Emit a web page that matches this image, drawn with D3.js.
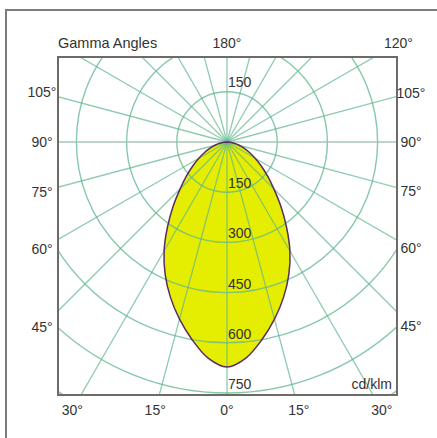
<!DOCTYPE html>
<html>
<head>
<meta charset="utf-8">
<script src="https://cdn.jsdelivr.net/npm/d3@7"></script>
<style>
  html, body { margin: 0; padding: 0; background: #fff; }
  svg text { font-family: "Liberation Sans", Arial, sans-serif; fill: #333; }
</style>
</head>
<body>
<div id="chart"></div>
<script>
/* gamma angles (deg, one half of the symmetric curve) and intensity (cd/klm) */
var gammaAngles = [0, 5, 10, 15, 20, 25, 30, 35, 40, 45, 50, 55, 60, 65, 70, 75, 80, 85, 90];
var intensity   = [672, 648, 600, 548, 494, 437, 376, 310, 250, 198, 158, 125, 97, 74, 54, 37, 22, 10, 0];

/* radial grid circles and their labels */
var gridValues = [150, 300, 450, 600, 750, 900];
var radialLabels = [150, 300, 450, 600, 750];

/* radial grid lines every 15 deg, angle labels (signed: negative = left side) */
var gridAngles = d3.range(0, 360, 15);
var angleLabels = [-105, -90, -75, -60, -45, -30, -15, 0, 15, 30, 45, 60, 75, 90, 105, 120, 180];

var W = 437, H = 438;
var frame = {x0: 58, y0: 57, x1: 397, y1: 395};
var labelBox = {x0: 42, y0: 43, x1: 411, y1: 410};
var cx = 227, cy = 142;

var r = d3.scaleLinear().domain([0, 750]).range([0, 251]);
var rad = function (deg) { return deg * Math.PI / 180; };

var svg = d3.select("#chart").append("svg")
  .attr("width", W).attr("height", H);

/* outer box (runs off the right and bottom edges) */
svg.append("rect")
  .attr("x", 6).attr("y", 10).attr("width", 460).attr("height", 460)
  .attr("fill", "#fff").attr("stroke", "#7c7c7c").attr("stroke-width", 2);

/* angle labels placed where each ray meets the label box */
function rayPoint(g) {
  var dx = Math.sin(rad(g)), dy = Math.cos(rad(g));
  var ts = [];
  if (dx > 1e-6) ts.push((labelBox.x1 - cx) / dx);
  if (dx < -1e-6) ts.push((labelBox.x0 - cx) / dx);
  if (dy > 1e-6) ts.push((labelBox.y1 - cy) / dy);
  if (dy < -1e-6) ts.push((labelBox.y0 - cy) / dy);
  var t = d3.min(ts);
  return [cx + t * dx, cy + t * dy];
}

svg.selectAll("text.ang")
  .data(angleLabels)
  .enter().append("text")
  .attr("class", "ang")
  .attr("x", function (d) { return rayPoint(d)[0]; })
  .attr("y", function (d) { return rayPoint(d)[1]; })
  .attr("text-anchor", "middle")
  .attr("dominant-baseline", "central")
  .style("font-size", "14px")
  .text(function (d) { return Math.abs(d) + "\u00b0"; });

svg.append("text")
  .attr("x", 58).attr("y", 48)
  .style("font-size", "14.5px")
  .text("Gamma Angles");

/* plot area */
svg.append("defs").append("clipPath").attr("id", "clip")
  .append("rect")
  .attr("x", frame.x0).attr("y", frame.y0)
  .attr("width", frame.x1 - frame.x0).attr("height", frame.y1 - frame.y0);

svg.append("rect")
  .attr("x", frame.x0).attr("y", frame.y0)
  .attr("width", frame.x1 - frame.x0).attr("height", frame.y1 - frame.y0)
  .attr("fill", "#fff");

var plot = svg.append("g").attr("clip-path", "url(#clip)");
var g = plot.append("g").attr("transform", "translate(" + cx + "," + cy + ")");

/* intensity curve: build both halves from the data */
var pts = [];
for (var i = gammaAngles.length - 1; i > 0; i--) pts.push({g: -gammaAngles[i], v: intensity[i]});
for (var j = 0; j < gammaAngles.length; j++) pts.push({g: gammaAngles[j], v: intensity[j]});

var curve = d3.lineRadial()
  .angle(function (d) { return Math.PI - rad(d.g); })
  .radius(function (d) { return r(d.v); })
  .curve(d3.curveCatmullRomClosed);

g.append("path")
  .datum(pts)
  .attr("d", curve)
  .attr("fill", "#e5ee00")
  .attr("stroke", "none");

/* grid circles */
g.selectAll("circle.grid")
  .data(gridValues)
  .enter().append("circle")
  .attr("class", "grid")
  .attr("r", function (d) { return r(d); })
  .attr("fill", "none")
  .attr("stroke", "#5fb58f")
  .attr("stroke-opacity", 0.75)
  .attr("stroke-width", 1.4);

/* radial lines */
g.selectAll("line.grid")
  .data(gridAngles)
  .enter().append("line")
  .attr("class", "grid")
  .attr("x1", 0).attr("y1", 0)
  .attr("x2", function (d) { return r(1000) * Math.sin(rad(d)); })
  .attr("y2", function (d) { return r(1000) * Math.cos(rad(d)); })
  .attr("stroke", function (d) { return (d === 90 || d === 270) ? "#9fc2b4" : "#5fb58f"; })
  .attr("stroke-opacity", 0.7)
  .attr("stroke-width", function (d) { return (d === 90 || d === 270) ? 2.2 : 1.3; });

/* curve outline */
g.append("path")
  .datum(pts)
  .attr("d", curve)
  .attr("fill", "none")
  .attr("stroke", "#5a2d62")
  .attr("stroke-width", 1.5);

/* radial value labels */
g.selectAll("text.val")
  .data(radialLabels)
  .enter().append("text")
  .attr("class", "val")
  .attr("x", 1)
  .attr("y", function (d) { return r(d) - 4; })
  .style("font-size", "14px")
  .text(function (d) { return d; });

g.append("text")
  .attr("x", 1)
  .attr("y", -r(radialLabels[0]) - 5)
  .style("font-size", "14px")
  .text(radialLabels[0]);

svg.append("text")
  .attr("x", frame.x1 - 5).attr("y", frame.y1 - 6)
  .attr("text-anchor", "end")
  .style("font-size", "14px")
  .text("cd/klm");

/* plot frame */
svg.append("rect")
  .attr("x", frame.x0).attr("y", frame.y0)
  .attr("width", frame.x1 - frame.x0).attr("height", frame.y1 - frame.y0)
  .attr("fill", "none").attr("stroke", "#6e6a66").attr("stroke-width", 2);
</script>
</body>
</html>
